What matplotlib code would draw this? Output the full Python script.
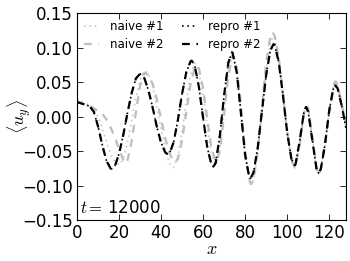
import matplotlib
matplotlib.use("Agg")
import matplotlib.pyplot as plt

# ---- data ----
x_repro = [0, 2, 4, 6, 8, 10, 12, 14, 16, 16.5, 18, 20, 22, 24, 26, 28, 30, 32, 34, 36, 38, 40, 42, 43.3,
           44, 46, 48, 50, 52, 54, 54.6, 56, 58, 60, 62, 64, 64.9, 66, 68, 70, 72, 73.7, 74, 76, 78, 80,
           82, 82.5, 84, 86, 88, 90, 92, 93.5, 94, 96, 98, 100, 102, 103.5, 104, 106, 108, 109, 110, 112,
           114, 114.9, 116, 118, 120, 122, 122.9, 124, 126, 128]
y_repro = [0.021, 0.019, 0.017, 0.015, 0.007, -0.014, -0.041, -0.064, -0.0755, -0.076, -0.072, -0.054,
           -0.027, 0.005, 0.034, 0.055, 0.062, 0.056, 0.038, 0.013, -0.015, -0.038, -0.052, -0.055,
           -0.054, -0.037, -0.005, 0.033, 0.064, 0.080, 0.081, 0.074, 0.043, -0.002, -0.045, -0.070,
           -0.073, -0.067, -0.027, 0.031, 0.078, 0.093, 0.0925, 0.064, 0.005, -0.056, -0.0885, -0.090,
           -0.081, -0.045, 0.0075, 0.060, 0.096, 0.105, 0.104, 0.079, 0.031, -0.023, -0.061, -0.071,
           -0.069, -0.0345, 0.007, 0.014, 0.007, -0.035, -0.0765, -0.082, -0.076, -0.0405, 0.008,
           0.041, 0.045, 0.041, 0.015, -0.016]

x_naive1 = [0, 2, 4, 6, 8, 10, 12, 14, 16, 18, 20, 22, 24, 26, 28, 30, 32, 32.5, 34, 36, 38, 40, 42, 44,
            45.8, 46, 48, 50, 52, 54, 56, 56.3, 58, 60, 62, 64, 66, 68, 70, 72, 74, 76, 78, 80, 82, 82.8,
            84, 86, 88, 90, 92, 93.3, 94, 96, 98, 100, 102, 103.7, 104, 106, 108, 109.3, 110, 112, 114,
            115, 116, 118, 120, 122, 123, 124, 126, 128]
y_naive1 = [0.026, 0.022, 0.019, 0.016, 0.0117, -0.0002, -0.0174, -0.0366, -0.0538, -0.0657, -0.070,
            -0.0616, -0.0384, -0.0063, 0.027, 0.053, 0.0655, 0.066, 0.0617, 0.0434, 0.0148, -0.0179,
            -0.0476, -0.0678, -0.074, -0.0739, -0.0582, -0.0218, 0.0227, 0.0599, 0.0767, 0.077, 0.0662,
            0.0306, -0.0159, -0.0541, -0.069, -0.0467, 0.008, 0.0643, 0.0908, 0.0711, 0.0133, -0.0534,
            -0.095, -0.099, -0.0921, -0.0535, 0.0069, 0.0676, 0.108, 0.116, 0.1139, 0.0861, 0.0353,
            -0.0206, -0.0617, -0.074, -0.0729, -0.040, 0.005, 0.016, 0.0123, -0.0294, -0.0757, -0.083,
            -0.0779, -0.0417, 0.0097, 0.0459, 0.051, 0.046, 0.018, -0.014]

x_naive2 = [0, 2, 4, 6, 8, 10, 12, 14, 16, 18, 20, 22, 22.9, 24, 26, 28, 30, 32, 33, 34, 36, 38, 40, 42,
            44, 46, 46.8, 48, 50, 52, 54, 56, 57, 58, 60, 62, 64, 66, 66.3, 68, 70, 72, 74, 74.3, 76, 78,
            80, 82, 82.9, 84, 86, 88, 90, 92, 93, 94, 96, 98, 100, 102, 103.6, 104, 106, 108, 109.3, 110,
            112, 114, 115, 116, 118, 120, 122, 123, 124, 126, 128]
y_naive2 = [0.022, 0.020, 0.018, 0.016, 0.012, 0.008, 0.004, -0.004, -0.016, -0.030, -0.047, -0.063,
            -0.068, -0.0637, -0.0363, 0.0056, 0.0443, 0.0634, 0.062, 0.0603, 0.0477, 0.0249, -0.0034,
            -0.0314, -0.0534, -0.0649, -0.066, -0.0612, -0.0347, 0.0062, 0.0462, 0.0707, 0.074, 0.070,
            0.041, -0.0043, -0.046, -0.0657, -0.066, -0.0493, 0.0024, 0.0594, 0.0885, 0.089, 0.0715,
            0.0159, -0.0502, -0.093, -0.098, -0.0916, -0.0507, 0.0137, 0.0775, 0.1167, 0.122, 0.1177,
            0.0857, 0.0327, -0.0232, -0.0631, -0.074, -0.0729, -0.040, 0.005, 0.016, 0.0123, -0.0294,
            -0.0757, -0.083, -0.0779, -0.0417, 0.0097, 0.0459, 0.051, 0.046, 0.018, -0.014]

x_ticks = [0, 20, 40, 60, 80, 100, 120]
y_ticks = [-0.15, -0.10, -0.05, 0.00, 0.05, 0.10, 0.15]
time_label = r"$t =\,$12000"

# ---- figure ----
plt.rcParams['font.family'] = ['DejaVu Sans']
plt.rcParams['mathtext.fontset'] = 'cm'
fig = plt.figure(figsize=(3.5, 2.61), dpi=100)
ax = fig.add_axes([0.22, 0.157, 0.7686, 0.793])

DOT = (1, 2.2)
DASH = (3.5, 3)
ax.plot(x_naive1, y_naive1, color='#c8c8c8', lw=1.2, dashes=DOT, label='naive #1')
ax.plot(x_naive2, y_naive2, color='#bdbdbd', lw=1.6, dashes=DASH, label='naive #2')
ax.plot(x_repro, y_repro, color='black', lw=1.2, dashes=DOT, label='repro #1')
ax.plot(x_repro, y_repro, color='black', lw=1.6, dashes=DASH, label='repro #2')

ax.set_xlim(0, 128)
ax.set_ylim(-0.15, 0.15)
ax.set_xticks(x_ticks)
ax.set_yticks(y_ticks)
ax.set_yticklabels([f"{v:.2f}".replace('-', '\u2212') for v in y_ticks])
ax.tick_params(direction='in', top=True, right=True, length=4, width=0.6,
               labelsize=12, pad=3)
for s in ax.spines.values():
    s.set_linewidth(0.8)

ax.set_xlabel(r"$x$", fontsize=13)
ax.xaxis.set_label_coords(0.5, -0.095)
ax.set_ylabel(r"$\langle u_y \rangle$", fontsize=13)
ax.yaxis.set_label_coords(-0.165, 0.5)

ax.text(0.012, 0.015, time_label, transform=ax.transAxes, fontsize=12,
        ha='left', va='bottom')

ax.legend(loc='upper left', ncol=2, frameon=False, fontsize=8.5,
          handlelength=1.3, columnspacing=1.6, handletextpad=0.9,
          borderaxespad=0.2, labelspacing=0.4)

fig.savefig("out.png", dpi=100)
